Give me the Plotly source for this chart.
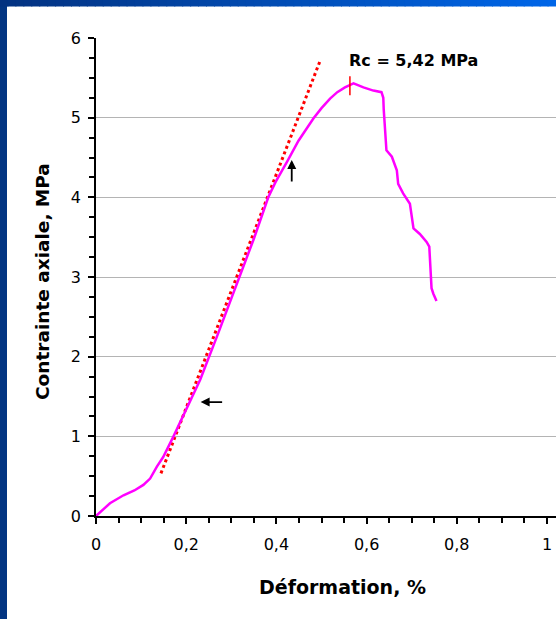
import plotly.graph_objects as go

# ---- data ----
strain = [0, 0.015, 0.031, 0.061, 0.085, 0.105, 0.12, 0.135, 0.149, 0.171, 0.194, 0.231,
          0.27, 0.31, 0.35, 0.382, 0.398, 0.425, 0.449, 0.482, 0.50, 0.519, 0.535, 0.552,
          0.571, 0.593, 0.615, 0.633, 0.637, 0.638, 0.641, 0.644, 0.656, 0.667, 0.670,
          0.681, 0.696, 0.700, 0.704, 0.718, 0.733, 0.739, 0.741, 0.744, 0.748, 0.755]
stress = [0, 0.08, 0.16, 0.26, 0.32, 0.39, 0.47, 0.62, 0.74, 0.99, 1.27, 1.71,
          2.28, 2.88, 3.48, 4.0, 4.19, 4.46, 4.71, 4.99, 5.12, 5.24, 5.32, 5.38,
          5.43, 5.38, 5.34, 5.32, 5.25, 5.1, 4.84, 4.59, 4.51, 4.34, 4.17,
          4.05, 3.92, 3.75, 3.61, 3.54, 3.44, 3.38, 3.21, 2.86, 2.79, 2.70]
tangent_x = [0.144, 0.498]
tangent_y = [0.535, 5.73]
peak_x = 0.563
peak_y = 5.42
peak_label = "Rc = 5,42 MPa"
x_ticks = [0, 0.2, 0.4, 0.6, 0.8, 1]
x_ticklabels = ["0", "0,2", "0,4", "0,6", "0,8", "1"]
y_ticks = [0, 1, 2, 3, 4, 5, 6]

W, H = 556, 619
L, R, T, B = 96, 0, 38, 103
PW, PH = W - L - R, H - T - B

def px_x(p):
    return (p - L) / PW

def px_y(p):
    return (H - B - p) / PH

FONT = "DejaVu Sans, Liberation Sans, Arial, sans-serif"

fig = go.Figure()
fig.add_trace(go.Scatter(x=tangent_x, y=tangent_y, mode="lines",
                         line=dict(color="#ff0000", width=3, dash="3px,3px"),
                         hoverinfo="skip", showlegend=False))
fig.add_trace(go.Scatter(x=strain, y=stress, mode="lines",
                         line=dict(color="#ff00ff", width=2.5),
                         showlegend=False))
# peak marker
fig.add_trace(go.Scatter(x=[peak_x, peak_x], y=[peak_y - 0.14, peak_y + 0.1], mode="lines",
                         line=dict(color="#ff0000", width=1.5), showlegend=False))

shapes = []
# blue frame: left stripe
shapes.append(dict(type="rect", xref="paper", yref="paper",
                   x0=px_x(-1), x1=px_x(7), y0=px_y(H + 1), y1=px_y(-1),
                   fillcolor="#033582", line=dict(width=0), layer="above"))
# top gradient stripe
N = 70
c0 = (0x03, 0x32, 0x80)
c1 = (0x00, 0x66, 0xe8)
for i in range(N):
    t = i / (N - 1)
    c = tuple(round(c0[k] + (c1[k] - c0[k]) * t) for k in range(3))
    shapes.append(dict(type="rect", xref="paper", yref="paper",
                       x0=px_x(i * W / N - 0.5), x1=px_x((i + 1) * W / N + 0.5),
                       y0=px_y(6.5), y1=px_y(-1),
                       fillcolor="rgb(%d,%d,%d)" % c, line=dict(width=0), layer="above"))

annotations = [
    dict(x=peak_x - 0.006, y=5.72, xref="x", yref="y", text="<b>%s</b>" % peak_label,
         showarrow=False, xanchor="left", yanchor="middle",
         font=dict(family=FONT, size=16, color="black")),
    # left arrow
    dict(x=0.232, y=1.43, ax=0.283, ay=1.43, xref="x", yref="y", axref="x", ayref="y",
         text="", showarrow=True, arrowhead=2, arrowsize=1, arrowwidth=1.8, arrowcolor="black"),
    # up arrow
    dict(x=0.434, y=4.47, ax=0.434, ay=4.18, xref="x", yref="y", axref="x", ayref="y",
         text="", showarrow=True, arrowhead=2, arrowsize=1, arrowwidth=1.8, arrowcolor="black"),
    dict(x=px_x(342), y=px_y(587), xref="paper", yref="paper", text="<b>Déformation, %</b>",
         showarrow=False, xanchor="center", yanchor="middle",
         font=dict(family=FONT, size=19, color="black")),
    dict(x=px_x(42), y=px_y(282), xref="paper", yref="paper", text="<b>Contrainte axiale, MPa</b>",
         showarrow=False, xanchor="center", yanchor="middle", textangle=-90,
         font=dict(family=FONT, size=18.5, color="black")),
]

fig.update_layout(
    width=W, height=H,
    margin=dict(l=L, r=R, t=T, b=B, pad=0),
    paper_bgcolor="white", plot_bgcolor="white",
    font=dict(family=FONT, size=16, color="black"),
    shapes=shapes, annotations=annotations,
    xaxis=dict(range=[0, PW / 451], tickvals=x_ticks, ticktext=x_ticklabels,
               showgrid=False, zeroline=False, showline=True, linecolor="black", linewidth=1.5,
               ticks="outside", ticklen=6, tickwidth=1.5, tickcolor="black", ticklabelstandoff=7,
               minor=dict(dtick=0.05, tick0=0, ticks="outside", ticklen=5, tickwidth=1.5,
                          tickcolor="black", showgrid=False),
               tickfont=dict(family=FONT, size=16, color="black"), fixedrange=True),
    yaxis=dict(range=[0, 6], tickvals=y_ticks,
               showgrid=True, gridcolor="#b4b4b4", gridwidth=1.2,
               zeroline=False, showline=True, linecolor="black", linewidth=1.5,
               ticks="outside", ticklen=6, tickwidth=1.5, tickcolor="black", ticklabelstandoff=4,
               minor=dict(dtick=0.25, tick0=0, ticks="outside", ticklen=5, tickwidth=1.5,
                          tickcolor="black", showgrid=False),
               tickfont=dict(family=FONT, size=16, color="black"), fixedrange=True),
)

fig.write_html("out.html", config={"displayModeBar": False},
               post_script="document.body.style.margin='0px';document.body.style.padding='0px';")
